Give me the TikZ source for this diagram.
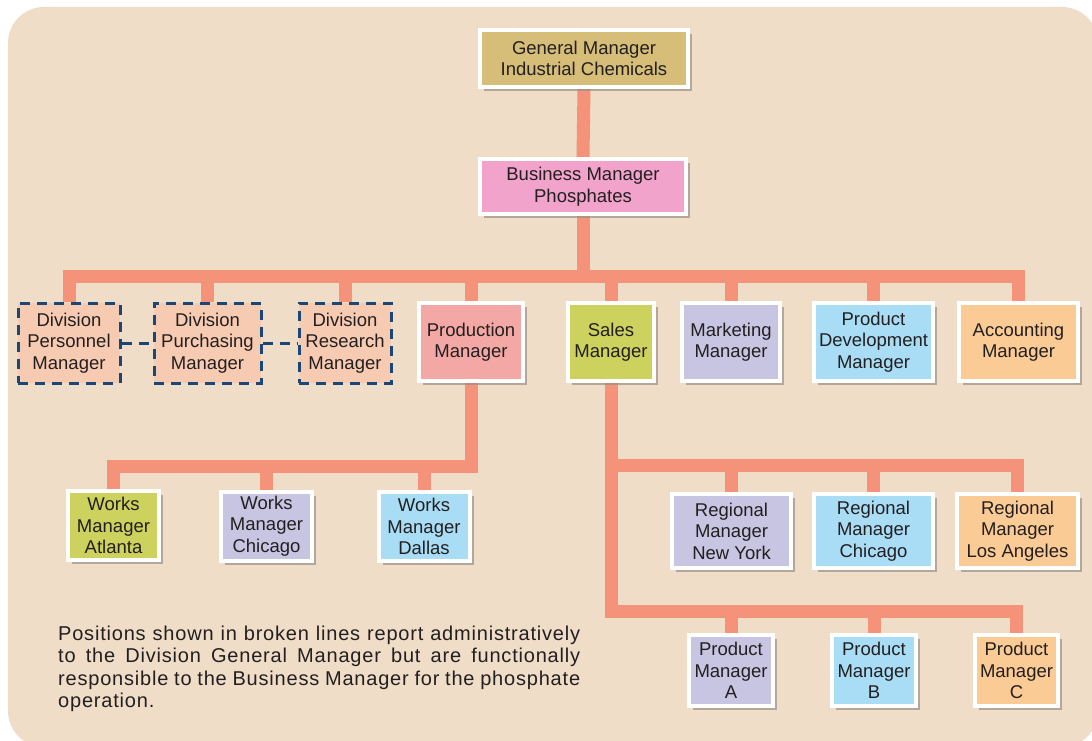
\documentclass[tikz,border=0pt]{standalone}
\usepackage{fontspec}
\setmainfont{Liberation Sans}
\newfontfamily\notefont[LetterSpace=4]{Liberation Sans}
\usetikzlibrary{shadows}
\definecolor{bgc}{HTML}{EFDDC8}
\definecolor{connc}{HTML}{F4937A}
\definecolor{gmc}{HTML}{D6BD78}
\definecolor{bmc}{HTML}{F2A3CB}
\definecolor{divc}{HTML}{F7CBB2}
\definecolor{prodc}{HTML}{F3A8A5}
\definecolor{olivec}{HTML}{CDD15E}
\definecolor{lavc}{HTML}{C8C5E2}
\definecolor{bluec}{HTML}{A9DDF5}
\definecolor{peachc}{HTML}{FBCB95}
\definecolor{dbluec}{HTML}{1B4777}
\definecolor{shadowc}{HTML}{9A9088}
\definecolor{txtc}{HTML}{231F20}
\pgfdeclarelayer{bgl}
\pgfdeclarelayer{lines}
\pgfsetlayers{bgl,lines,main}
\begin{document}
\begin{tikzpicture}[x=1pt,y=-1pt,
  box/.style={draw=white, line width=4pt, text=txtc, align=center,
    font=\fontsize{18.5}{21.5}\selectfont, inner sep=0pt,
    drop shadow={shadow xshift=4pt, shadow yshift=-4pt, fill=shadowc, opacity=0.7}},
  dbox/.style={draw=dbluec, line width=3pt, dash pattern=on 10pt off 7pt, fill=divc,
    text=txtc, align=center, font=\fontsize{18.5}{21.5}\selectfont, inner sep=0pt},
  conn/.style={draw=connc, line width=13pt, line join=miter},
  dconn/.style={draw=dbluec, line width=3pt, dash pattern=on 10pt off 7pt},
  note/.style={text=txtc, text width=522pt, align=justify, font=\notefont\fontsize{20}{22.3}\selectfont, inner sep=0pt}
]
\useasboundingbox (0,0) rectangle (1092,741);
\begin{pgfonlayer}{bgl}
\fill[bgc, rounded corners=36pt] (8,7) rectangle (1098,747);
\end{pgfonlayer}

% level 0-1
\node[box, fill=gmc, minimum width=208pt, minimum height=57pt] (gm) at (584,58.5) {General Manager\\Industrial Chemicals};
\node[box, fill=bmc, minimum width=206pt, minimum height=55pt] (bm) at (583,186.5) {Business Manager\\Phosphates};

% level 2
\node[dbox, minimum width=102pt, minimum height=80pt] (dpers) at (69,343) {Division\\Personnel\\Manager};
\node[dbox, minimum width=107pt, minimum height=80pt] (dpur) at (207.5,343) {Division\\Purchasing\\Manager};
\node[dbox, minimum width=92pt, minimum height=80pt] (dres) at (345,343) {Division\\Research\\Manager};
\node[box, fill=prodc, minimum width=104pt, minimum height=78pt] (prod) at (471,342) {Production\\Manager};
\node[box, fill=olivec, minimum width=86pt, minimum height=78pt] (sales) at (611,342) {Sales\\Manager};
\node[box, fill=lavc, minimum width=98pt, minimum height=78pt] (mkt) at (731,342) {Marketing\\Manager};
\node[box, fill=bluec, minimum width=119pt, minimum height=78pt] (pdev) at (873.5,342) {Product\\Development\\Manager};
\node[box, fill=peachc, minimum width=119pt, minimum height=78pt] (acc) at (1018.5,342) {Accounting\\Manager};

% works managers
\node[box, fill=olivec, minimum width=91pt, minimum height=69pt] (wa) at (113.5,525.5) {Works\\Manager\\Atlanta};
\node[box, fill=lavc, minimum width=91pt, minimum height=69pt] (wc) at (266.5,526) {Works\\Manager\\Chicago};
\node[box, fill=bluec, minimum width=91pt, minimum height=69pt] (wd) at (424,526.5) {Works\\Manager\\Dallas};

% regional managers
\node[box, fill=lavc, minimum width=119pt, minimum height=74pt] (rny) at (731.5,531) {Regional\\Manager\\New York};
\node[box, fill=bluec, minimum width=119pt, minimum height=74pt] (rch) at (873.5,531) {Regional\\Manager\\Chicago};
\node[box, fill=peachc, minimum width=121pt, minimum height=74pt] (rla) at (1017.5,531) {Regional\\Manager\\Los Angeles};

% product managers
\node[box, fill=lavc, minimum width=84pt, minimum height=71pt] (pa) at (731,670.5) {Product\\Manager\\A};
\node[box, fill=bluec, minimum width=84pt, minimum height=71pt] (pb) at (874,670.5) {Product\\Manager\\B};
\node[box, fill=peachc, minimum width=83pt, minimum height=71pt] (pc) at (1016.5,670.5) {Product\\Manager\\C};

% note
\node[note, anchor=north west] (nt) at (58,626) {\hbadness=10000\hyphenpenalty=10000 Positions shown in broken lines report administratively\linebreak to the Division General Manager but are functionally\linebreak responsible to the Business Manager for the phosphate\linebreak operation.};

% connectors
\coordinate (bar1) at (0,276);
\coordinate (bar2) at (0,466);
\coordinate (bar3) at (0,465);
\coordinate (bar4) at (0,611);
\begin{pgfonlayer}{lines}
\draw[conn] (gm.south) -- (bm.north);
\draw[conn] (bm.south) -- (bm.south |- bar1);
\draw[conn] (dpers.north) -- (dpers.north |- bar1) -- (acc.north |- bar1) -- (acc.north);
\foreach \n in {dpur,dres,prod,sales,mkt,pdev}
  \draw[conn] (\n.north) -- (\n.north |- bar1);
\draw[conn] (wa.north) -- (wa.north |- bar2) -- (prod.south |- bar2) -- (prod.south);
\foreach \n in {wc,wd}
  \draw[conn] (\n.north) -- (\n.north |- bar2);
\draw[conn] (sales.south) -- (sales.south |- bar4) -- (pc.north |- bar4) -- (pc.north);
\draw[conn] (sales.south |- bar3) -- (rla.north |- bar3) -- (rla.north);
\foreach \n in {rny,rch}
  \draw[conn] (\n.north) -- (\n.north |- bar3);
\foreach \n in {pa,pb}
  \draw[conn] (\n.north) -- (\n.north |- bar4);
\end{pgfonlayer}
\draw[dconn] (dpers.east) -- (dpur.west);
\draw[dconn] (dpur.east) -- (dres.west);
\end{tikzpicture}
\end{document}
